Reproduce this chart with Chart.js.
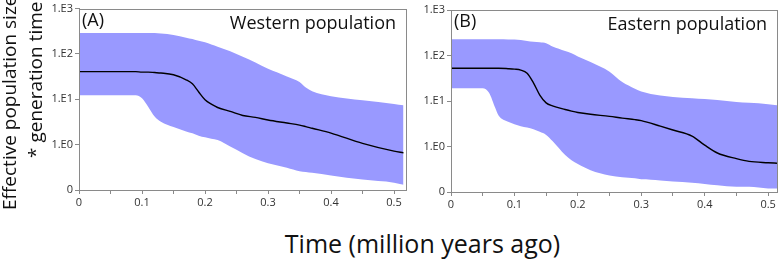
<!DOCTYPE html>
<html>
<head>
<meta charset="utf-8">
<script src="https://cdn.jsdelivr.net/npm/chart.js@4"></script>
<style>
  html, body { margin: 0; padding: 0; background: #fff; }
  body { width: 778px; height: 264px; position: relative; overflow: hidden; font-family: "Open Sans", sans-serif; }
  canvas { position: absolute; }
  .ytitle { position: absolute; left: 0; top: 0; white-space: nowrap; transform-origin: 0 0; font-size: 19px; line-height: 19px; color: #111; }
  #xtitle { position: absolute; left: 0; width: 845px; text-align: center; top: 228px; font-size: 25px; line-height: 30px; color: #111; white-space: nowrap; }
</style>
</head>
<body>
<canvas id="cA" width="410" height="215" style="left:0;top:0"></canvas>
<canvas id="cB" width="406" height="217" style="left:372px;top:0"></canvas>
<div class="ytitle" id="yt1">Effective population size</div>
<div class="ytitle" id="yt2">* generation time</div>
<div id="xtitle">Time (million years ago)</div>
<script>
// ---- data (time in million years ago; Ne*generation time) ----
const westTime   = [0, 0.05, 0.09, 0.1, 0.11, 0.12, 0.13, 0.15, 0.17, 0.18, 0.19, 0.2, 0.21, 0.22, 0.24, 0.26, 0.28, 0.3, 0.33, 0.35, 0.36, 0.37, 0.4, 0.45, 0.5, 0.515];
const westMedian = [40.7, 40.7, 40.7, 39.8, 39.8, 38.9, 38.0, 34.7, 26.9, 21.9, 14.5, 9.8, 7.8, 6.6, 5.4, 4.4, 4.0, 3.5, 3.0, 2.7, 2.5, 2.3, 1.8, 1.07, 0.72, 0.66];
const westUpper  = [288, 288, 288, 288, 288, 288, 282, 263, 229, 214, 195, 182, 162, 145, 115, 87, 65, 47, 32, 24, 18.2, 15.1, 11.7, 9.5, 7.9, 7.4];
const westLower  = [12.3, 12.3, 12.3, 10.5, 6.8, 4.2, 3.2, 2.45, 1.95, 1.78, 1.58, 1.45, 1.35, 1.26, 0.91, 0.65, 0.48, 0.39, 0.31, 0.26, 0.25, 0.24, 0.21, 0.17, 0.145, 0.13];

const eastTime   = [0, 0.05, 0.06, 0.07, 0.075, 0.09, 0.1, 0.11, 0.12, 0.13, 0.14, 0.15, 0.16, 0.18, 0.19, 0.2, 0.22, 0.25, 0.27, 0.29, 0.3, 0.33, 0.35, 0.38, 0.4, 0.42, 0.45, 0.47, 0.5, 0.514];
const eastMedian = [52.5, 52.5, 52.5, 52.5, 52.5, 51.3, 50.1, 47.9, 40.7, 25.1, 13.5, 9.1, 7.8, 6.5, 6.0, 5.6, 5.1, 4.6, 4.2, 3.9, 3.7, 2.8, 2.3, 1.7, 1.07, 0.72, 0.54, 0.47, 0.44, 0.43];
const eastUpper  = [229, 229, 229, 229, 229, 226, 224, 219, 209, 200, 195, 186, 158, 126, 112, 95, 72, 44, 26, 18.6, 16.2, 13.2, 12.3, 11.5, 11.0, 10.5, 9.5, 9.1, 8.5, 8.1];
const eastLower  = [19.1, 19.1, 15.1, 6.9, 4.8, 3.5, 3.1, 2.8, 2.6, 2.4, 2.1, 1.8, 1.32, 0.65, 0.50, 0.41, 0.30, 0.23, 0.21, 0.20, 0.19, 0.18, 0.17, 0.16, 0.15, 0.14, 0.13, 0.13, 0.12, 0.12];

const yTickValues = [0.1, 1, 10, 100, 1000];
const yTickLabels = ['0', '1.E0', '1.E1', '1.E2', '1.E3'];
const xTickValues = [0, 0.05, 0.1, 0.15, 0.2, 0.25, 0.3, 0.35, 0.4, 0.45, 0.5];
const xTickLabels = ['0', '', '0.1', '', '0.2', '', '0.3', '', '0.4', '', '0.5'];

const panelLetters = ['(A)', '(B)'];
const panelNames = ['Western population', 'Eastern population'];

// ---- styling / layout ----
const FONT = '"Open Sans", sans-serif';
const BAND = 'rgb(153,153,255)';
const AXIS = '#8a8a8a';

const y1 = document.getElementById('yt1');
y1.style.transform = 'translate(0px, 210px) rotate(-90deg)';
const y2 = document.getElementById('yt2');
y2.style.transform = 'translate(26px, 158px) rotate(-90deg)';

function pts(t, v) { return t.map((x, i) => ({ x: x, y: v[i] })); }

const panelPlugin = {
  id: 'panelDecor',
  afterDraw(chart, args, opts) {
    const { ctx, chartArea: a } = chart;
    ctx.save();
    ctx.strokeStyle = AXIS;
    ctx.lineWidth = 1;
    ctx.strokeRect(Math.round(a.left) + 0.5, Math.round(a.top) + 0.5, Math.round(a.right - a.left), Math.round(a.bottom - a.top));
    ctx.fillStyle = '#111';
    ctx.textBaseline = 'top';
    ctx.font = '18px ' + FONT;
    ctx.textAlign = 'left';
    ctx.fillText(opts.letter, a.left + 3, a.top + 3);
    ctx.textAlign = 'right';
    ctx.font = '18px ' + FONT;
    ctx.fillText(opts.name, a.right - 10, a.top + 6);
    ctx.restore();
  }
};

function makeChart(id, time, med, up, lo, xmax, pad, idx) {
  return new Chart(document.getElementById(id), {
    type: 'line',
    data: {
      datasets: [
        { data: pts(time, med), borderColor: '#000', borderWidth: 1.4, pointRadius: 0, fill: false, cubicInterpolationMode: 'monotone' },
        { data: pts(time, up), borderWidth: 0, borderColor: 'rgba(0,0,0,0)', backgroundColor: BAND, pointRadius: 0, fill: '+1', cubicInterpolationMode: 'monotone' },
        { data: pts(time, lo), borderWidth: 0, borderColor: 'rgba(0,0,0,0)', pointRadius: 0, fill: false, cubicInterpolationMode: 'monotone' }
      ]
    },
    options: {
      responsive: false,
      animation: false,
      devicePixelRatio: 1,
      layout: { padding: pad },
      plugins: { legend: { display: false }, tooltip: { enabled: false }, panelDecor: { letter: panelLetters[idx], name: panelNames[idx] } },
      scales: {
        x: {
          type: 'linear', min: 0, max: xmax,
          afterBuildTicks: s => { s.ticks = xTickValues.map(v => ({ value: v })); },
          afterFit: s => { s.height = 25; },
          ticks: { callback: (v, i) => xTickLabels[i], color: '#333', font: { family: FONT, size: 11 }, padding: 2, maxRotation: 0, autoSkip: false },
          grid: { drawOnChartArea: false, tickLength: 4, color: AXIS },
          border: { color: AXIS }
        },
        y: {
          type: 'logarithmic', min: 0.1, max: 1000,
          afterBuildTicks: s => { s.ticks = yTickValues.map(v => ({ value: v })); },
          afterFit: s => { s.width = 79; },
          ticks: { callback: (v, i) => yTickLabels[i], color: '#333', font: { family: FONT, size: 11 }, padding: 2, autoSkip: false },
          grid: { drawOnChartArea: false, tickLength: 4, color: AXIS },
          border: { color: AXIS }
        }
      }
    },
    plugins: [panelPlugin]
  });
}

makeChart('cA', westTime, westMedian, westUpper, westLower, 0.519, { left: 0, top: 8, right: 4, bottom: 0 }, 0);
makeChart('cB', eastTime, eastMedian, eastUpper, eastLower, 0.514, { left: 0, top: 10, right: 1, bottom: 0 }, 1);
</script>
</body>
</html>
